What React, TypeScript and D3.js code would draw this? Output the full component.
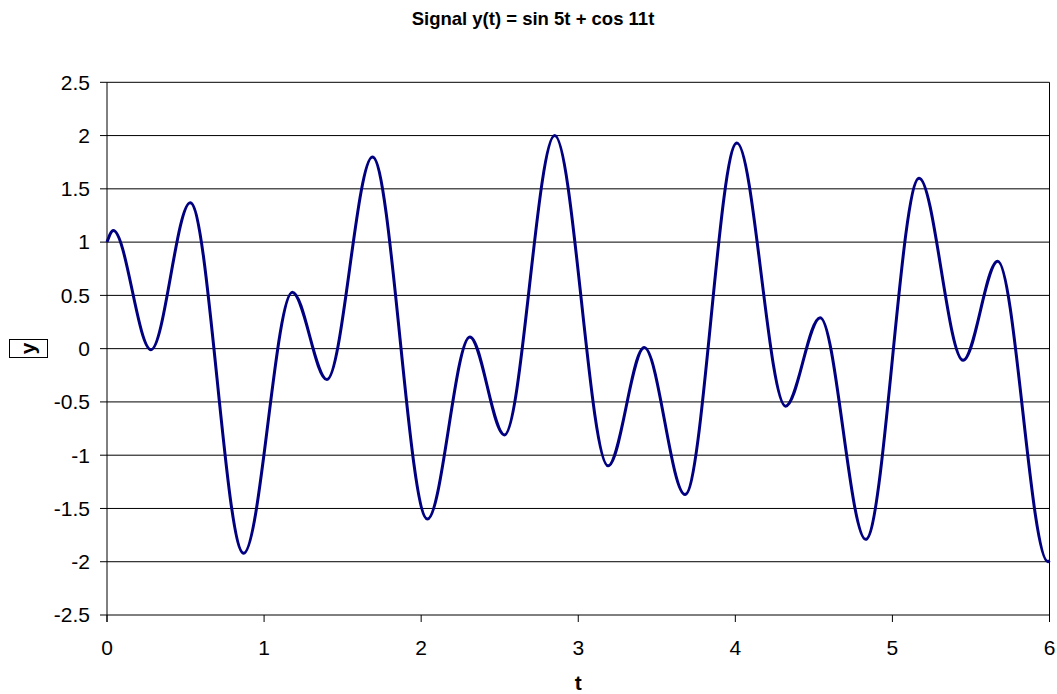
import React, { useEffect, useRef } from 'react';
import * as d3 from 'd3';

// peaks and troughs
const tValues = [
  0, 0.04, 0.28, 0.53, 0.87, 1.18, 1.4, 1.69, 2.04, 2.31, 2.53, 2.85, 3.19, 3.42,
  3.68, 4.01, 4.32, 4.54, 4.83, 5.17, 5.45, 5.67, 5.99, 6.0,
];
const yValues = [
  1.0, 1.11, -0.01, 1.37, -1.92, 0.53, -0.29, 1.8, -1.6, 0.11, -0.81, 2.0, -1.1, 0.01,
  -1.37, 1.93, -0.54, 0.29, -1.79, 1.6, -0.11, 0.82, -2.0, -1.99,
];
const xTicks = [0, 1, 2, 3, 4, 5, 6];
const yTicks = [2.5, 2, 1.5, 1, 0.5, 0, -0.5, -1, -1.5, -2, -2.5];

const width = 1057;
const height = 694;
const FONT = '"Liberation Sans", Arial, sans-serif';

const App: React.FC = () => {
  const svgRef = useRef<SVGSVGElement>(null);

  useEffect(() => {
    const svg = d3.select(svgRef.current);
    svg.selectAll('*').remove();

    const left = 107;
    const right = 1049.5;
    const top = 82.3;
    const bottom = 615;

    const x = d3.scaleLinear().domain([0, 6]).range([left, right]);
    const y = d3.scaleLinear().domain([-2.5, 2.5]).range([bottom, top]);

    svg.append('rect').attr('width', width).attr('height', height).attr('fill', '#fff');

    // gridlines
    svg.selectAll('.grid')
      .data(yTicks.filter(v => v !== -2.5))
      .enter()
      .append('line')
      .attr('x1', left)
      .attr('x2', right)
      .attr('y1', d => y(d))
      .attr('y2', d => y(d))
      .attr('stroke', '#000')
      .attr('stroke-width', 1);

    // right border
    svg.append('line')
      .attr('x1', right).attr('x2', right)
      .attr('y1', top).attr('y2', bottom)
      .attr('stroke', '#000');

    // y axis
    svg.append('line')
      .attr('x1', left).attr('x2', left)
      .attr('y1', top).attr('y2', bottom + 7)
      .attr('stroke', '#000');
    svg.selectAll('.ytick')
      .data(yTicks)
      .enter()
      .append('line')
      .attr('x1', left - 7).attr('x2', left)
      .attr('y1', d => y(d)).attr('y2', d => y(d))
      .attr('stroke', '#000');
    svg.selectAll('.ylabel')
      .data(yTicks)
      .enter()
      .append('text')
      .attr('x', 90)
      .attr('y', d => y(d))
      .attr('dy', '0.35em')
      .attr('text-anchor', 'end')
      .attr('font-family', FONT)
      .attr('font-size', 21)
      .attr('fill', '#000')
      .text(d => String(d));

    // x axis
    svg.append('line')
      .attr('x1', left).attr('x2', right)
      .attr('y1', bottom).attr('y2', bottom)
      .attr('stroke', '#000');
    svg.selectAll('.xtick')
      .data(xTicks)
      .enter()
      .append('line')
      .attr('x1', d => x(d)).attr('x2', d => x(d))
      .attr('y1', bottom).attr('y2', bottom + 7)
      .attr('stroke', '#000');
    svg.selectAll('.xlabel')
      .data(xTicks)
      .enter()
      .append('text')
      .attr('x', d => x(d))
      .attr('y', 655)
      .attr('text-anchor', 'middle')
      .attr('font-family', FONT)
      .attr('font-size', 21)
      .attr('fill', '#000')
      .text(d => String(d));

    // signal curve
    const points: [number, number][] = tValues.map((t, i) => [t, yValues[i]]);
    const line = d3.line<[number, number]>()
      .x(d => x(d[0]))
      .y(d => y(d[1]))
      .curve(d3.curveMonotoneX);
    svg.append('path')
      .attr('d', line(points) || '')
      .attr('fill', 'none')
      .attr('stroke', '#000080')
      .attr('stroke-width', 3)
      .attr('stroke-linejoin', 'round');

    // title
    svg.append('text')
      .attr('x', 533)
      .attr('y', 25)
      .attr('text-anchor', 'middle')
      .attr('font-family', FONT)
      .attr('font-weight', 'bold')
      .attr('font-size', 18.5)
      .attr('fill', '#000')
      .text('Signal y(t) = sin 5t + cos 11t');

    // axis titles
    svg.append('text')
      .attr('x', (left + right) / 2)
      .attr('y', 690)
      .attr('text-anchor', 'middle')
      .attr('font-family', FONT)
      .attr('font-weight', 'bold')
      .attr('font-size', 21)
      .attr('fill', '#000')
      .text('t');

    svg.append('rect')
      .attr('x', 9.5).attr('y', 339.5)
      .attr('width', 38).attr('height', 18)
      .attr('fill', 'none')
      .attr('stroke', '#000');
    svg.append('text')
      .attr('transform', 'translate(28.5,348.5) rotate(-90)')
      .attr('dy', '0.3em')
      .attr('text-anchor', 'middle')
      .attr('font-family', FONT)
      .attr('font-weight', 'bold')
      .attr('font-size', 21)
      .attr('fill', '#000')
      .text('y');
  }, []);

  return (
    <svg
      ref={svgRef}
      width={width}
      height={height}
      style={{ position: 'absolute', left: 0, top: 0 }}
    />
  );
};

export default App;
